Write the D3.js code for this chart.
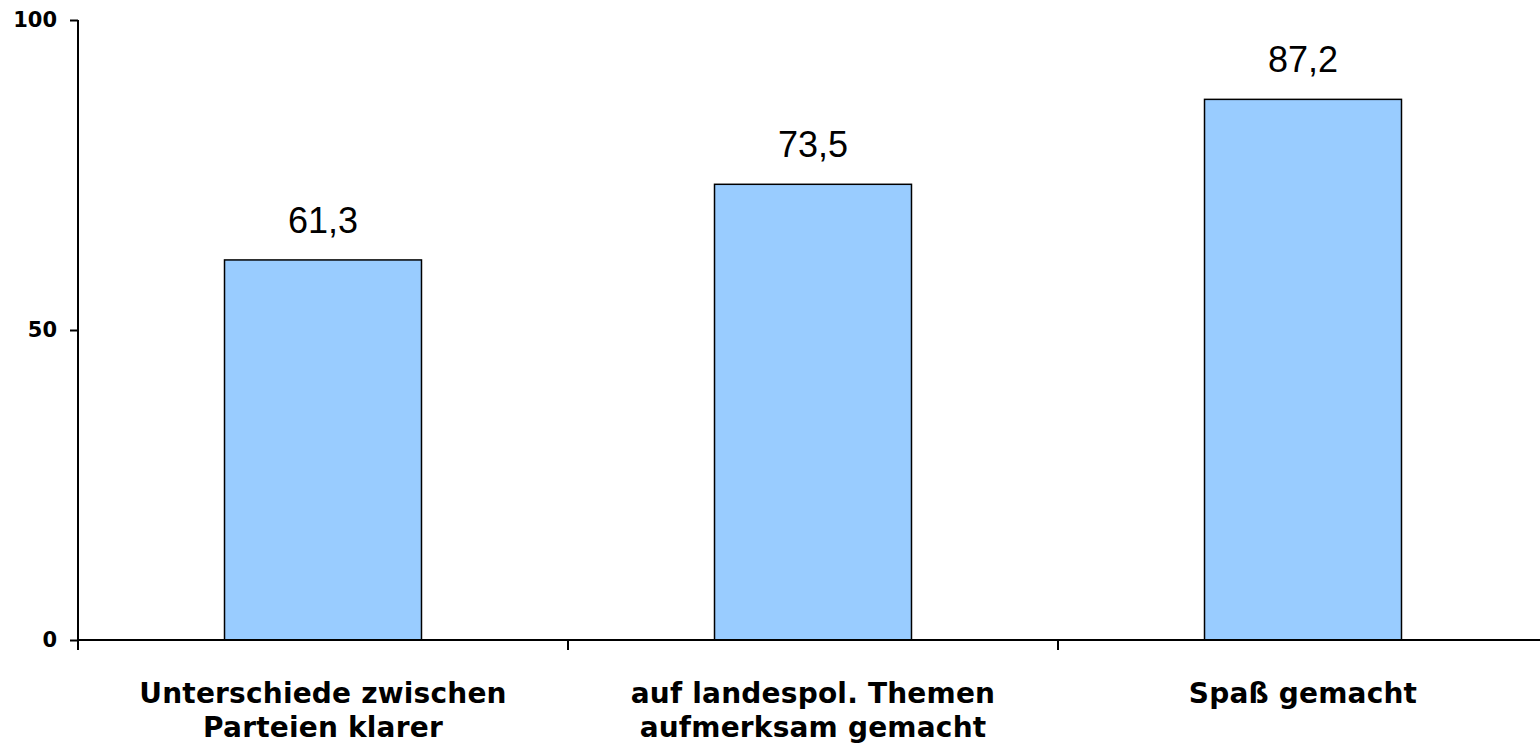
<!DOCTYPE html>
<html><head><meta charset="utf-8">
<script src="https://cdn.jsdelivr.net/npm/d3@7"></script>
<style>body{margin:0;background:#fff}</style>
</head><body>
<svg id="c" width="1540" height="744"></svg>
<script>
const categories = [["Unterschiede zwischen","Parteien klarer"],["auf landespol. Themen","aufmerksam gemacht"],["Spaß gemacht"]];
const values = [61.3, 73.5, 87.2];
const valueLabels = ["61,3","73,5","87,2"];
const yTicks = [0, 50, 100];

const svg = d3.select("#c");
const x = d3.scaleBand().domain(d3.range(categories.length)).range([78, 1548]).paddingInner(0).paddingOuter(0);
const y = d3.scaleLinear().domain([0, 100]).range([640, 20]);
const barW = x.bandwidth() * 0.402;

// bars
svg.selectAll("rect.bar").data(values).join("rect")
  .attr("x", (d,i) => x(i) + x.bandwidth()/2 - barW/2)
  .attr("y", d => y(d))
  .attr("width", barW)
  .attr("height", d => y(0) - y(d))
  .attr("fill", "#99CCFF").attr("stroke", "#000").attr("stroke-width", 1.5);

// value labels
svg.selectAll("text.val").data(values).join("text")
  .attr("x", (d,i) => x(i) + x.bandwidth()/2)
  .attr("y", d => y(d) - 27)
  .attr("text-anchor", "middle")
  .attr("font-family", "Liberation Sans, Arial, sans-serif")
  .attr("font-size", 36)
  .attr("fill", "#000")
  .text((d,i) => valueLabels[i]);

// y axis
const yAxis = d3.axisLeft(y).tickValues(yTicks).tickSize(8).tickPadding(13).tickFormat(d3.format("d"));
const gy = svg.append("g").attr("transform", "translate(78,0)").call(yAxis);
gy.select(".domain").remove();
gy.selectAll(".tick line").attr("stroke", "#000").attr("stroke-width", 2);
gy.selectAll(".tick text").attr("font-family", "DejaVu Sans, Verdana, sans-serif").attr("font-weight", "bold").attr("font-size", 21).attr("fill", "#000");
svg.append("line").attr("x1", 78).attr("x2", 78).attr("y1", y(100)).attr("y2", 650).attr("stroke", "#000").attr("stroke-width", 2);

// x axis line
svg.append("line").attr("x1", 78).attr("x2", 1540).attr("y1", y(0)).attr("y2", y(0)).attr("stroke", "#000").attr("stroke-width", 2);
// category boundary ticks
svg.selectAll("line.xt").data(d3.range(1, categories.length)).join("line")
  .attr("x1", d => x(d)).attr("x2", d => x(d)).attr("y1", y(0)).attr("y2", 650)
  .attr("stroke", "#000").attr("stroke-width", 2);

// category labels
const cl = svg.selectAll("text.cat").data(categories).join("text")
  .attr("text-anchor", "middle")
  .attr("font-family", "DejaVu Sans, Verdana, sans-serif")
  .attr("font-weight", "bold").attr("font-size", 28).attr("letter-spacing", 0.2)
  .attr("fill", "#000");
cl.selectAll("tspan").data((d,i) => d.map(t => ({t, i}))).join("tspan")
  .attr("x", d => x(d.i) + x.bandwidth()/2)
  .attr("y", (d,j) => 703 + j*34)
  .text(d => d.t);
</script>
</body></html>
